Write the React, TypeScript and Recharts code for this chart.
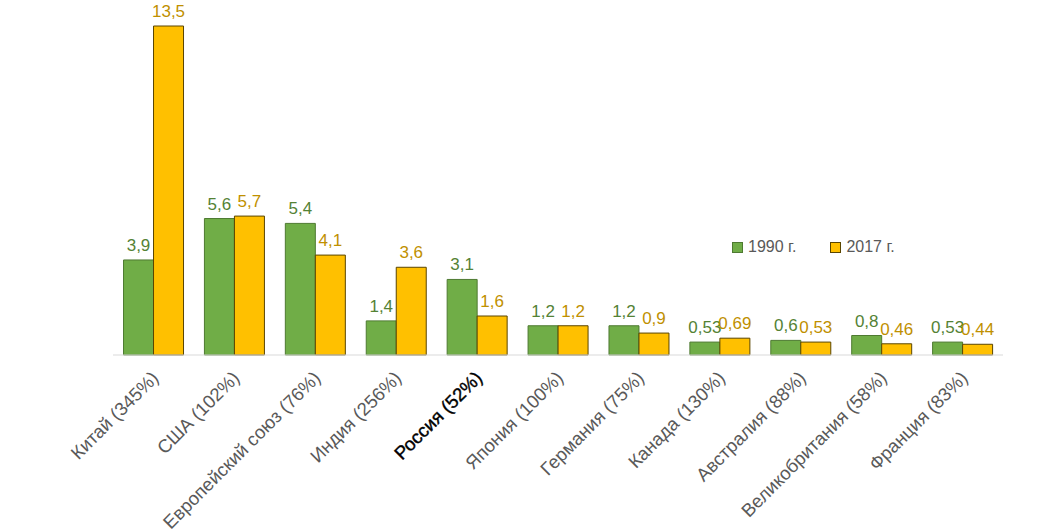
import { BarChart, Bar, XAxis, YAxis, LabelList, Legend } from 'recharts';

const countries = [
  'Китай (345%)',
  'США (102%)',
  'Европейский союз (76%)',
  'Индия (256%)',
  'Россия (52%)',
  'Япония (100%)',
  'Германия (75%)',
  'Канада (130%)',
  'Австралия (88%)',
  'Великобритания (58%)',
  'Франция (83%)',
];
const values1990 = [3.9, 5.6, 5.4, 1.4, 3.1, 1.2, 1.2, 0.53, 0.6, 0.8, 0.53];
const values2017 = [13.5, 5.7, 4.1, 3.6, 1.6, 1.2, 0.9, 0.69, 0.53, 0.46, 0.44];
const seriesNames = ['1990 г.', '2017 г.'];

const data = countries.map((name, i) => ({ name, y1990: values1990[i], y2017: values2017[i] }));

const FONT = 'Arial, "Liberation Sans", sans-serif';
const GREEN = '#70AD47';
const GOLD = '#FFC000';

const fmt = (v: any) => String(v).replace('.', ',');

function AxisTick({ x, y, payload }: any) {
  const isRussia = String(payload.value).startsWith('Россия');
  return (
    <g transform={`translate(${x + 2},${y + 12})`}>
      <text
        transform="rotate(-45)"
        textAnchor="end"
        dy={6}
        fill={isRussia ? '#000000' : '#595959'}
        stroke={isRussia ? '#000000' : 'none'}
        strokeWidth={isRussia ? 0.4 : 0}
        fontSize={18.5}
        fontFamily={FONT}
      >
        {payload.value}
      </text>
    </g>
  );
}

function LegendBox() {
  const items = [
    { label: seriesNames[0], fill: GREEN, stroke: '#4E7A31' },
    { label: seriesNames[1], fill: GOLD, stroke: '#5A4500' },
  ];
  return (
    <div style={{ display: 'flex', gap: 34, fontFamily: FONT, fontSize: 16, color: '#595959' }}>
      {items.map((it) => (
        <div key={it.label} style={{ display: 'flex', alignItems: 'center', gap: 5 }}>
          <div style={{ width: 9, height: 9, background: it.fill, border: `1px solid ${it.stroke}` }} />
          <span>{it.label}</span>
        </div>
      ))}
    </div>
  );
}

export default function App() {
  return (
    <div style={{ position: 'fixed', left: 0, top: 0, width: 1059, height: 532, background: '#fff' }}>
      <BarChart
        width={1059}
        height={532}
        data={data}
        margin={{ top: 26, right: 56, left: 113, bottom: 0 }}
        barCategoryGap="13%"
        barGap={0}
      >
        <XAxis
          dataKey="name"
          interval={0}
          height={177}
          tickLine={false}
          axisLine={{ stroke: '#D9D9D9', strokeWidth: 1 }}
          tick={<AxisTick />}
        />
        <YAxis hide domain={[0, 13.5]} />
        <Legend
          content={<LegendBox />}
          layout="horizontal"
          verticalAlign="top"
          align="left"
          wrapperStyle={{ left: 732, top: 238, width: 0, height: 0, overflow: 'visible', whiteSpace: 'nowrap' }}
        />
        <Bar dataKey="y1990" name={seriesNames[0]} fill={GREEN} stroke="#4E7A31" strokeWidth={1} isAnimationActive={false}>
          <LabelList dataKey="y1990" position="top" offset={9} formatter={fmt} fill="#548235" fontSize={17} fontFamily={FONT} />
        </Bar>
        <Bar dataKey="y2017" name={seriesNames[1]} fill={GOLD} stroke="#5A4500" strokeWidth={1} isAnimationActive={false}>
          <LabelList dataKey="y2017" position="top" offset={9} formatter={fmt} fill="#BF9000" fontSize={17} fontFamily={FONT} />
        </Bar>
      </BarChart>
    </div>
  );
}
